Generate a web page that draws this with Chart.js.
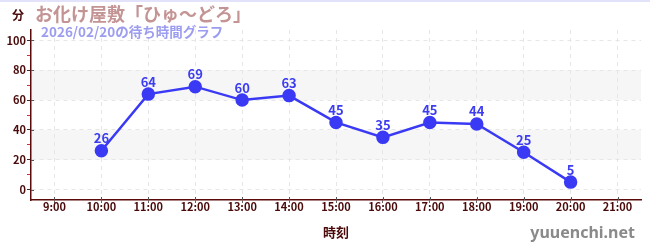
<!DOCTYPE html>
<html lang="ja">
<head>
  <meta charset="UTF-8" />
  <title>お化け屋敷「ひゅ～どろ」待ち時間</title>
  <script src="https://cdn.jsdelivr.net/npm/chart.js"></script>
  <style>
    html, body { margin: 0; padding: 0; background: #fff; }
    #wrap { width: 650px; height: 250px; position: relative; }
  </style>
</head>
<body>
  <div id="wrap"><canvas id="waitChart" width="650" height="250"></canvas></div>

  <script>
    const hours = [10, 11, 12, 13, 14, 15, 16, 17, 18, 19, 20];
    const waitMinutes = [26, 64, 69, 60, 63, 45, 35, 45, 44, 25, 5];
    const hourTicks = [9, 10, 11, 12, 13, 14, 15, 16, 17, 18, 19, 20, 21];
    const minuteTicks = [0, 10, 20, 30, 40, 50, 60, 70, 80, 90, 100];
    const titleText = 'お化け屋敷「ひゅ～どろ」';
    const subtitleText = '2026/02/20の待ち時間グラフ';
    const yUnit = '分';
    const xTitle = '時刻';
    const siteName = 'yuuenchi.net';
    const bands = [[20, 40], [60, 80]];

    const JP = '"Noto Sans CJK JP", "Noto Sans", sans-serif';
    const isMajor = v => v % 20 === 0;

    const decorPlugin = {
      id: 'decor',
      beforeDraw(chart) {
        const { ctx, chartArea: a, scales } = chart;
        ctx.save();
        ctx.fillStyle = '#f6f6f6';
        bands.forEach(([lo, hi]) => {
          const y1 = scales.y.getPixelForValue(hi);
          const y2 = scales.y.getPixelForValue(lo);
          ctx.fillRect(a.left, y1, a.right - a.left, y2 - y1);
        });
        ctx.fillStyle = '#e2e2fa';
        ctx.fillRect(0, 0, chart.width, 2);
        ctx.restore();
      },
      afterDatasetsDraw(chart) {
        const { ctx } = chart;
        const meta = chart.getDatasetMeta(0);
        ctx.save();
        ctx.font = 'bold 13px ' + JP;
        ctx.fillStyle = '#3c3cf0';
        ctx.textAlign = 'center';
        ctx.textBaseline = 'bottom';
        meta.data.forEach((pt, i) => {
          ctx.fillText(String(waitMinutes[i]), pt.x, pt.y - 6);
        });
        ctx.restore();
      },
      afterDraw(chart) {
        const { ctx, chartArea: a, scales } = chart;
        ctx.save();
        // little tick marks crossing the axes, as in the original
        ctx.lineWidth = 1;
        ctx.strokeStyle = '#555';
        hourTicks.forEach(h => {
          const x = Math.round(scales.x.getPixelForValue(h)) + 0.5;
          ctx.beginPath(); ctx.moveTo(x, a.bottom - 3); ctx.lineTo(x, a.bottom); ctx.stroke();
        });
        minuteTicks.filter(isMajor).forEach(v => {
          const y = Math.round(scales.y.getPixelForValue(v)) + 0.5;
          ctx.beginPath(); ctx.moveTo(a.left, y); ctx.lineTo(a.left + 3, y); ctx.stroke();
        });

        ctx.textBaseline = 'middle';
        ctx.textAlign = 'left';
        ctx.font = 'bold 12px ' + JP;
        ctx.fillStyle = '#4a0a0a';
        ctx.fillText(yUnit, 12, 15);
        ctx.font = 'bold 18px ' + JP;
        ctx.fillStyle = '#c49494';
        ctx.fillText(titleText, 35, 14);
        ctx.font = 'bold 13.5px ' + JP;
        ctx.fillStyle = '#9c9cf0';
        ctx.fillText(subtitleText, 41, 32);
        ctx.textAlign = 'center';
        ctx.font = 'bold 13px ' + JP;
        ctx.fillStyle = '#4a0a0a';
        ctx.fillText(xTitle, (a.left + a.right) / 2, 232);
        ctx.textAlign = 'right';
        ctx.font = 'bold 16px "Noto Sans", sans-serif';
        ctx.fillStyle = '#8a8a8a';
        ctx.fillText(siteName, 635, 233);
        ctx.restore();
      }
    };

    new Chart(document.getElementById('waitChart'), {
      type: 'line',
      data: {
        datasets: [{
          data: hours.map((h, i) => ({ x: h, y: waitMinutes[i] })),
          borderColor: '#3a3af5',
          backgroundColor: '#3a3af5',
          borderWidth: 2.5,
          pointRadius: 5.5,
          pointHoverRadius: 5.5,
          tension: 0
        }]
      },
      options: {
        responsive: false,
        animation: false,
        layout: { padding: { top: 30, right: 9, left: 0, bottom: 0 } },
        plugins: { legend: { display: false }, tooltip: { enabled: false } },
        scales: {
          x: {
            type: 'linear',
            min: 8.5,
            max: 21.5,
            afterBuildTicks: s => { s.ticks = hourTicks.map(v => ({ value: v })); },
            afterFit: s => { s.height = 50; },
            ticks: {
              autoSkip: false,
              maxRotation: 0,
              color: '#4a0a0a',
              font: { family: JP, size: 11, weight: 'bold' },
              padding: -3,
              callback: v => v + ':00'
            },
            grid: {
              color: '#e6e6e6',
              tickColor: '#666',
              tickLength: 3,
              lineWidth: 1
            },
            border: { color: '#5a0a0a', width: 1.5, dash: [4, 4] }
          },
          y: {
            min: -7,
            max: 107,
            afterBuildTicks: s => { s.ticks = minuteTicks.map(v => ({ value: v })); },
            afterFit: s => { s.width = 31; },
            ticks: {
              autoSkip: false,
              color: '#4a0a0a',
              font: { family: JP, size: 11, weight: 'bold' },
              padding: 1,
              callback: v => isMajor(v) ? String(v) : ''
            },
            grid: {
              color: c => isMajor(c.tick.value) ? '#e6e6e6' : 'rgba(0,0,0,0)',
              tickColor: c => isMajor(c.tick.value) ? '#333' : '#d03030',
              tickLength: 4,
              lineWidth: 1
            },
            border: { color: '#5a0a0a', width: 1.5, dash: [4, 4] }
          }
        }
      },
      plugins: [decorPlugin]
    });
  </script>
</body>
</html>
